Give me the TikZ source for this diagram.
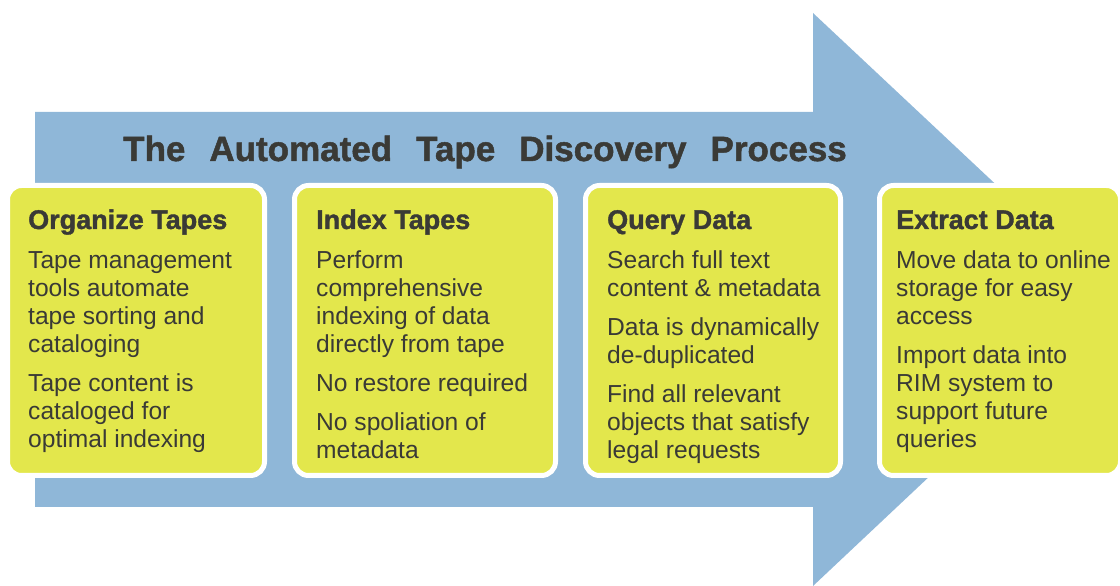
\documentclass[tikz,border=0pt]{standalone}
\usepackage{fontspec}
\setmainfont{Liberation Sans}
\newfontfamily\headfont{Liberation Sans Bold}[FakeBold=1.4]
\definecolor{arrowblue}{RGB}{143,183,216}
\definecolor{boxyellow}{RGB}{227,231,76}
\definecolor{ink}{RGB}{58,58,54}
\newcommand{\wgap}{\hspace{24pt}}
\newcommand{\hd}[1]{{\headfont\fontsize{27}{28}\selectfont #1}}
\begin{document}
\begin{tikzpicture}[x=1pt,y=1pt,
  panel/.style={fill=boxyellow, draw=white, line width=5pt, rounded corners=14pt,
    inner sep=0pt, outer sep=0pt, anchor=south west, minimum height=290pt},
  bodytext/.style={anchor=base west, inner sep=0pt, text=ink,
    font=\fontsize{24.6}{28}\selectfont},
  titletext/.style={anchor=base west, inner sep=0pt, text=ink,
    font=\headfont\fontsize{35}{40}\selectfont}]
\path[use as bounding box] (0,0) rectangle (1120,586);
% big arrow
\fill[arrowblue] (35,474) -- (813,474) -- (813,573) -- (1118,287) -- (813,0)
  -- (813,79) -- (35,79) -- cycle;
% title
\node[titletext] (title) at (123,425)
  {The\wgap Automated\wgap Tape\wgap Discovery\wgap Process};
% panels
\node[panel, minimum width=257pt] (b1) at (7.5,110.5) {};
\node[panel, minimum width=261pt] (b2) at (294.5,110.5) {};
\node[panel, minimum width=255pt] (b3) at (585.5,110.5) {};
\node[panel, minimum width=241pt] (b4) at (879.5,110.5) {};
% texts
\node[bodytext] (t1) at (28,357) {\begin{tabular}[t]{@{}l@{}}
  \hd{Organize Tapes}\\[12pt]
  Tape management\\ tools automate\\ tape sorting and\\ cataloging\\[11pt]
  Tape content is\\ cataloged for\\ optimal indexing\end{tabular}};
\node[bodytext] (t2) at (316,357) {\begin{tabular}[t]{@{}l@{}}
  \hd{Index Tapes}\\[12pt]
  Perform\\ comprehensive\\ indexing of data\\ directly from tape\\[11pt]
  No restore required\\[11pt]
  No spoliation of\\ metadata\end{tabular}};
\node[bodytext] (t3) at (607,357) {\begin{tabular}[t]{@{}l@{}}
  \hd{Query Data}\\[12pt]
  Search full text\\ content \& metadata\\[11pt]
  Data is dynamically\\ de-duplicated\\[11pt]
  Find all relevant\\ objects that satisfy\\ legal requests\end{tabular}};
\node[bodytext] (t4) at (896,357) {\begin{tabular}[t]{@{}l@{}}
  \hd{Extract Data}\\[12pt]
  Move data to online\\ storage for easy\\ access\\[11pt]
  Import data into\\ RIM system to\\ support future\\ queries\end{tabular}};
\end{tikzpicture}
\end{document}
